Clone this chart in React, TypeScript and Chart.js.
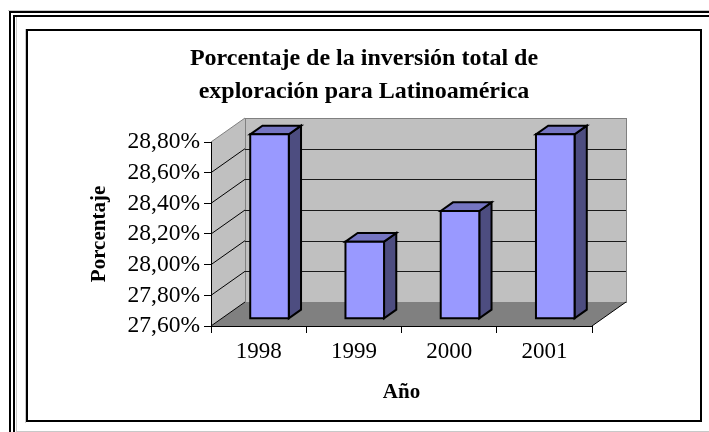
import React, { useEffect, useRef } from 'react';
import { Chart, registerables } from 'chart.js';

Chart.register(...registerables);

// ---- data ----
const categories = ['1998', '1999', '2000', '2001'];
const values = [28.8, 28.1, 28.3, 28.8];
const yMin = 27.6;
const yMax = 28.8;
const yStep = 0.2;
const titleLines = ['Porcentaje de la inversión total de', 'exploración para Latinoamérica'];
const xTitle = 'Año';
const yTitle = 'Porcentaje';

// ---- 3D look ----
const DX = 34;
const DY = -24;
const F1 = 0.32;
const F2 = 0.68;
const FONT = 'Liberation Serif, Times New Roman, serif';

const fmt = (v: number) => Number(v).toFixed(2).replace('.', ',') + '%';

const poly = (ctx: CanvasRenderingContext2D, pts: number[][]) => {
  ctx.beginPath();
  ctx.moveTo(pts[0][0], pts[0][1]);
  for (let i = 1; i < pts.length; i++) ctx.lineTo(pts[i][0], pts[i][1]);
  ctx.closePath();
};

const threeD = {
  id: 'threeD',
  beforeDraw(chart: any) {
    const ctx: CanvasRenderingContext2D = chart.ctx;
    const { left: L, right: R, top: T, bottom: B } = chart.chartArea;
    ctx.save();
    ctx.fillStyle = '#ffffff';
    ctx.fillRect(0, 0, chart.width, chart.height);

    // page frames
    ctx.fillStyle = '#c8c8c8';
    ctx.fillRect(8, 10, 701, 1);
    ctx.fillRect(16, 17, 1, 415);
    ctx.fillRect(17, 431, 692, 1);
    ctx.fillRect(25, 29, 1, 394);
    ctx.fillStyle = '#000';
    ctx.fillRect(9, 11, 2, 421);
    ctx.fillRect(9, 11, 700, 2);
    ctx.fillRect(13, 15, 2, 417);
    ctx.fillRect(13, 15, 696, 2);
    ctx.lineWidth = 2;
    ctx.strokeStyle = '#000';
    ctx.strokeRect(27, 30, 674, 391);

    // walls and floor
    ctx.fillStyle = '#c0c0c0';
    ctx.fillRect(L + DX, T + DY, R - L, B - T);
    poly(ctx, [[L, T], [L + DX, T + DY], [L + DX, B + DY], [L, B]]);
    ctx.fill();
    ctx.fillStyle = '#808080';
    poly(ctx, [[L, B], [L + DX, B + DY], [R + DX, B + DY], [R, B]]);
    ctx.fill();

    ctx.lineWidth = 1;
    ctx.strokeStyle = '#808080';
    ctx.strokeRect(Math.round(L + DX) + 0.5, Math.round(T + DY) + 0.5, Math.round(R - L), Math.round(B - T));
    ctx.beginPath();
    ctx.moveTo(L, T);
    ctx.lineTo(L + DX, T + DY);
    ctx.stroke();

    const ys = chart.scales.y;
    ys.ticks.forEach((t: any) => {
      const y = ys.getPixelForValue(t.value);
      const yy = Math.round(y + DY) + 0.5;
      if (t.value > yMin + 1e-9 && t.value < yMax - 1e-9) {
        ctx.strokeStyle = '#1a1a1a';
        ctx.beginPath();
        ctx.moveTo(L + DX, yy);
        ctx.lineTo(R + DX, yy);
        ctx.stroke();
      }
      if (t.value < yMax - 1e-9) {
        ctx.strokeStyle = '#000';
        ctx.beginPath();
        ctx.moveTo(L, y);
        ctx.lineTo(L + DX, y + DY);
        ctx.stroke();
      }
    });
    ctx.strokeStyle = '#000';
    ctx.beginPath();
    ctx.moveTo(R, B);
    ctx.lineTo(R + DX, B + DY);
    ctx.stroke();
    ctx.restore();
  },
  afterDatasetsDraw(chart: any) {
    const ctx: CanvasRenderingContext2D = chart.ctx;
    const meta = chart.getDatasetMeta(0);
    const ys = chart.scales.y;
    const basePx = ys.getPixelForValue(yMin);
    ctx.save();
    ctx.lineWidth = 2;
    ctx.lineJoin = 'miter';
    ctx.strokeStyle = '#000';
    meta.data.forEach((bar: any) => {
      const { x, y, width } = bar.getProps(['x', 'y', 'width'], true);
      const x0 = x - width / 2 + F1 * DX;
      const x1 = x + width / 2 + F1 * DX;
      const yt = y + F1 * DY;
      const yb = basePx + F1 * DY;
      const ddx = (F2 - F1) * DX;
      const ddy = (F2 - F1) * DY;
      ctx.fillStyle = '#4d4d80';
      poly(ctx, [[x1, yt], [x1 + ddx, yt + ddy], [x1 + ddx, yb + ddy], [x1, yb]]);
      ctx.fill();
      ctx.stroke();
      ctx.fillStyle = '#7575c2';
      poly(ctx, [[x0, yt], [x0 + ddx, yt + ddy], [x1 + ddx, yt + ddy], [x1, yt]]);
      ctx.fill();
      ctx.stroke();
      ctx.fillStyle = '#9999ff';
      poly(ctx, [[x0, yt], [x1, yt], [x1, yb], [x0, yb]]);
      ctx.fill();
      ctx.stroke();
    });
    ctx.restore();
  },
};

export default function App() {
  const ref = useRef<HTMLCanvasElement | null>(null);
  useEffect(() => {
    if (!ref.current) return;
    const chart = new Chart(ref.current, {
      type: 'bar',
      data: {
        labels: categories,
        datasets: [
          {
            data: values,
            base: yMin,
            backgroundColor: 'rgba(0,0,0,0)',
            borderWidth: 0,
            barPercentage: 0.405,
            categoryPercentage: 1,
          },
        ],
      },
      plugins: [threeD],
      options: {
        animation: false,
        responsive: false,
        devicePixelRatio: 1,
        layout: { padding: { left: 27, right: 8, top: 0, bottom: 10 } },
        plugins: {
          legend: { display: false },
          tooltip: { enabled: false },
          title: {
            display: true,
            text: titleLines,
            color: '#000',
            font: { family: FONT, size: 24, weight: 'bold', lineHeight: 1.35 },
            padding: { top: 43, bottom: 34.2 },
          },
        },
        scales: {
          x: {
            type: 'category',
            offset: true,
            grid: { offset: true, drawOnChartArea: false, tickLength: 7, color: '#000' },
            border: { display: true, color: '#000' },
            ticks: { color: '#000', font: { family: FONT, size: 23 }, padding: 5 },
            title: {
              display: true,
              text: xTitle,
              color: '#000',
              font: { family: FONT, size: 21, weight: 'bold' },
              padding: { top: 0, bottom: 17 },
            },
            afterFit: (s: any) => {
              s.height = 96;
            },
          },
          y: {
            type: 'linear',
            position: 'left',
            min: yMin,
            max: yMax,
            grid: { drawOnChartArea: false, tickLength: 7, color: '#000' },
            border: { display: true, color: '#000' },
            ticks: {
              stepSize: yStep,
              autoSkip: false,
              color: '#000',
              font: { family: FONT, size: 23.5, lineHeight: 1 },
              padding: 4,
              callback: (v: any) => fmt(v),
            },
            title: {
              display: true,
              text: yTitle,
              color: '#000',
              font: { family: FONT, size: 21, weight: 'bold' },
              padding: { top: 60, bottom: 0 },
            },
            afterFit: (s: any) => {
              s.width = 184;
            },
          },
          yR: {
            type: 'linear',
            position: 'right',
            display: true,
            grid: { display: false, drawTicks: false },
            border: { display: false },
            ticks: { display: false },
            afterFit: (s: any) => {
              s.width = 109;
            },
          },
        },
      } as any,
    });
    return () => chart.destroy();
  }, []);
  return (
    <div style={{ position: 'fixed', left: 0, top: 0, width: 709, height: 432 }}>
      <canvas ref={ref} width={709} height={432} style={{ display: 'block' }} />
    </div>
  );
}
